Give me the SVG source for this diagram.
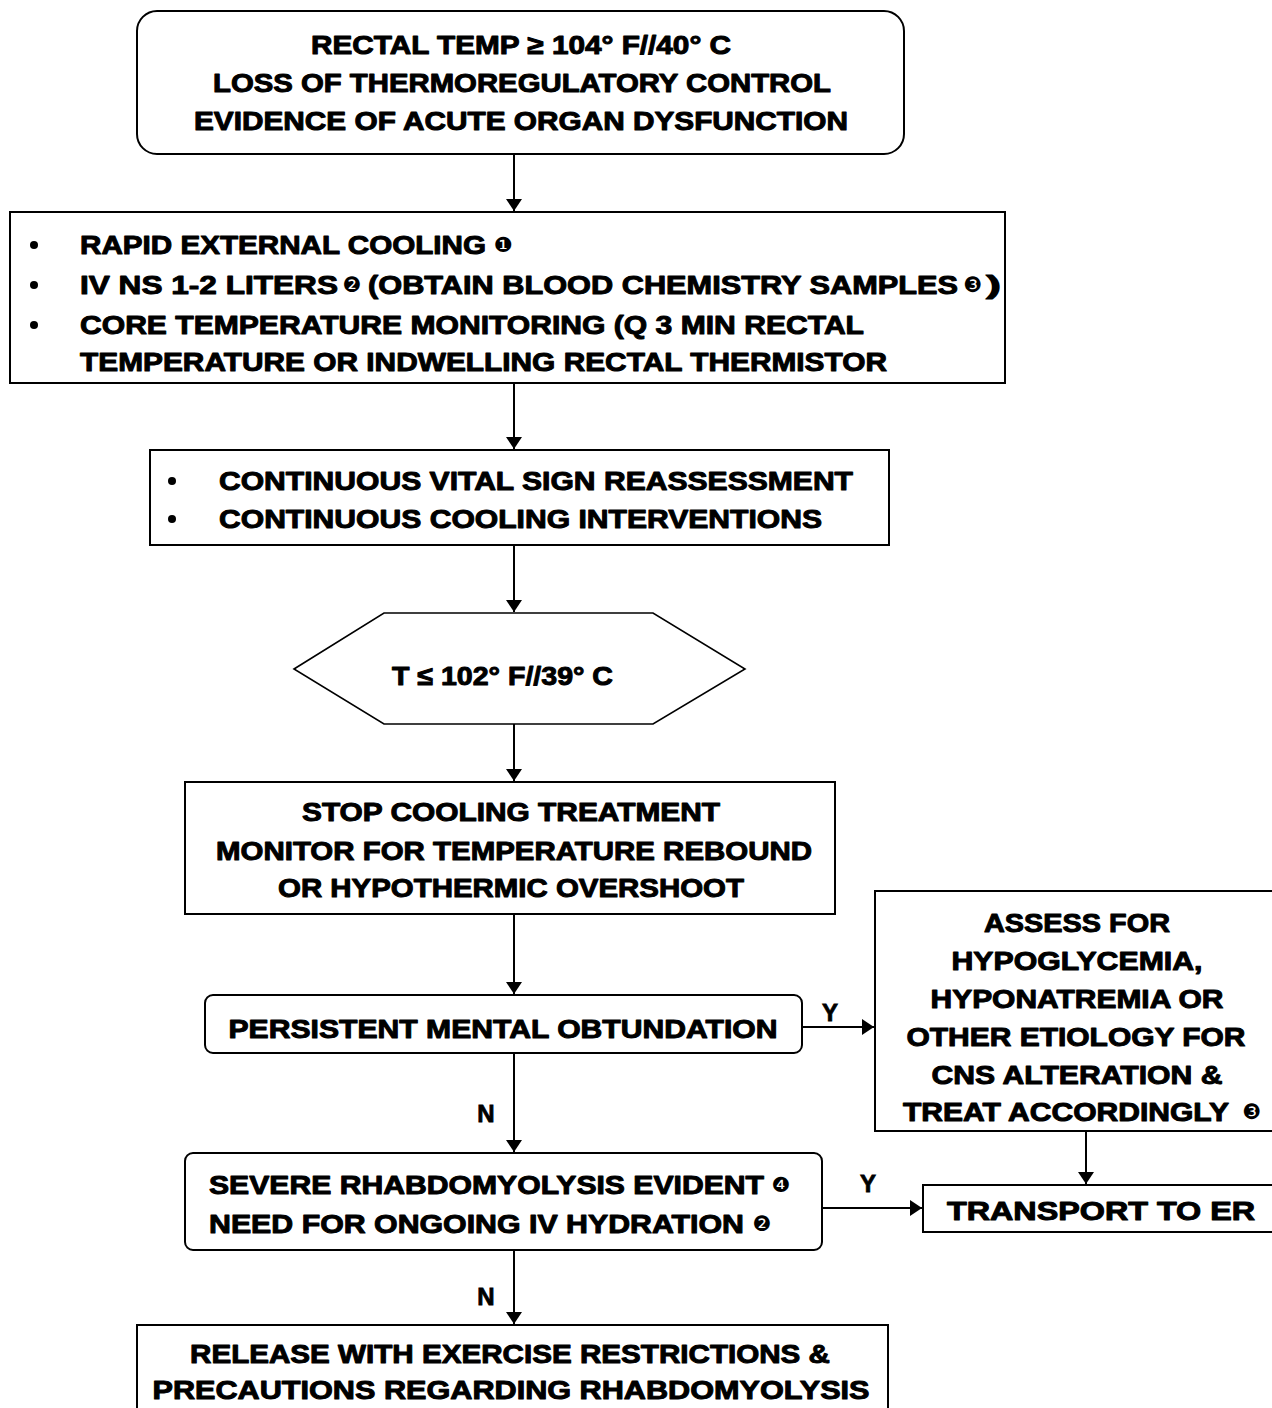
<svg xmlns="http://www.w3.org/2000/svg" width="1272" height="1408" viewBox="0 0 1272 1408">
  <style>
    .box { fill: #fff; stroke: #000; stroke-width: 2; }
    .hex { fill: #fff; stroke: #000; stroke-width: 1.6; }
    .t { font-family: "Liberation Sans", Arial, sans-serif; font-weight: bold; font-size: 26.5px; fill: #000; stroke: #000; stroke-width: 1; stroke-linejoin: round; }
    .c { text-anchor: middle; }
    .num { font-family: "DejaVu Sans", sans-serif; font-size: 21px; fill: #000; text-anchor: middle; }
    .lbl { font-family: "Liberation Sans", Arial, sans-serif; font-weight: bold; font-size: 24px; fill: #000; stroke: #000; stroke-width: 0.8; text-anchor: middle; }
    .wire { fill: none; stroke: #000; stroke-width: 2; }
  </style>
  <defs>
    <marker id="arrow" viewBox="0 0 12 16" refX="12" refY="8" markerWidth="12" markerHeight="16" markerUnits="userSpaceOnUse" orient="auto">
      <path d="M0,0 L12,8 L0,16 Z" fill="#000"/>
    </marker>
  </defs>
  <rect width="1272" height="1408" fill="#fff"/>

  <!-- connectors -->
  <g id="connectors">
    <line class="wire" x1="514" y1="155" x2="514" y2="211" marker-end="url(#arrow)"/>
    <line class="wire" x1="514" y1="384" x2="514" y2="449" marker-end="url(#arrow)"/>
    <line class="wire" x1="514" y1="546" x2="514" y2="612" marker-end="url(#arrow)"/>
    <line class="wire" x1="514" y1="724" x2="514" y2="781" marker-end="url(#arrow)"/>
    <line class="wire" x1="514" y1="915" x2="514" y2="994" marker-end="url(#arrow)"/>
    <line class="wire" x1="802" y1="1027" x2="874" y2="1027" marker-end="url(#arrow)"/>
    <line class="wire" x1="514" y1="1054" x2="514" y2="1152" marker-end="url(#arrow)"/>
    <line class="wire" x1="1086" y1="1131" x2="1086" y2="1184" marker-end="url(#arrow)"/>
    <line class="wire" x1="822" y1="1208" x2="922" y2="1208" marker-end="url(#arrow)"/>
    <line class="wire" x1="514" y1="1251" x2="514" y2="1324" marker-end="url(#arrow)"/>
    <text class="lbl" x="830" y="1021">Y</text>
    <text class="lbl" x="486" y="1122">N</text>
    <text class="lbl" x="868" y="1192">Y</text>
    <text class="lbl" x="486" y="1305">N</text>
  </g>

  <!-- entry criteria -->
  <g id="criteria">
    <rect class="box" x="137" y="11" width="767" height="143" rx="20"/>
    <text class="t c" x="521" y="54" textLength="420" lengthAdjust="spacingAndGlyphs">RECTAL TEMP ≥ 104° F//40° C</text>
    <text class="t c" x="522" y="92" textLength="618" lengthAdjust="spacingAndGlyphs">LOSS OF THERMOREGULATORY CONTROL</text>
    <text class="t c" x="521" y="130" textLength="654" lengthAdjust="spacingAndGlyphs">EVIDENCE OF ACUTE ORGAN DYSFUNCTION</text>
  </g>

  <!-- initial treatment -->
  <g id="initial-treatment">
    <rect class="box" x="10" y="212" width="995" height="171"/>
    <circle cx="34" cy="245" r="4"/>
    <circle cx="34" cy="285" r="4"/>
    <circle cx="34" cy="325" r="4"/>
    <text class="t" x="80" y="254" textLength="406" lengthAdjust="spacingAndGlyphs">RAPID EXTERNAL COOLING</text>
    <text class="num" x="503" y="252">❶</text>
    <text class="t" x="80" y="294" textLength="258" lengthAdjust="spacingAndGlyphs">IV NS 1-2 LITERS</text>
    <text class="num" x="352" y="292">❷</text>
    <text class="t" x="368" y="294" textLength="590" lengthAdjust="spacingAndGlyphs">(OBTAIN BLOOD CHEMISTRY SAMPLES</text>
    <text class="num" x="973" y="292">❸</text>
    <text class="t" x="986" y="294" textLength="15" lengthAdjust="spacingAndGlyphs">)</text>
    <text class="t" x="80" y="334" textLength="784" lengthAdjust="spacingAndGlyphs">CORE TEMPERATURE MONITORING (Q 3 MIN RECTAL</text>
    <text class="t" x="80" y="371" textLength="807" lengthAdjust="spacingAndGlyphs">TEMPERATURE OR INDWELLING RECTAL THERMISTOR</text>
  </g>

  <!-- ongoing monitoring -->
  <g id="monitoring">
    <rect class="box" x="150" y="450" width="739" height="95"/>
    <circle cx="172" cy="481" r="4"/>
    <circle cx="172" cy="519" r="4"/>
    <text class="t" x="219" y="490" textLength="634" lengthAdjust="spacingAndGlyphs">CONTINUOUS VITAL SIGN REASSESSMENT</text>
    <text class="t" x="219" y="528" textLength="603" lengthAdjust="spacingAndGlyphs">CONTINUOUS COOLING INTERVENTIONS</text>
  </g>

  <!-- temperature decision -->
  <g id="temp-check">
    <polygon class="hex" points="294,669 384,613 653,613 745,669 653,724 384,724"/>
    <text class="t" x="392" y="685" textLength="221" lengthAdjust="spacingAndGlyphs">T ≤ 102° F//39° C</text>
  </g>

  <!-- stop cooling -->
  <g id="stop-cooling">
    <rect class="box" x="185" y="782" width="650" height="132"/>
    <text class="t c" x="511" y="821" textLength="418" lengthAdjust="spacingAndGlyphs">STOP COOLING TREATMENT</text>
    <text class="t c" x="514" y="860" textLength="596" lengthAdjust="spacingAndGlyphs">MONITOR FOR TEMPERATURE REBOUND</text>
    <text class="t c" x="511" y="897" textLength="466" lengthAdjust="spacingAndGlyphs">OR HYPOTHERMIC OVERSHOOT</text>
  </g>

  <!-- mental status decision -->
  <g id="obtundation">
    <rect class="box" x="205" y="995" width="597" height="58" rx="8"/>
    <text class="t c" x="503" y="1038" textLength="549" lengthAdjust="spacingAndGlyphs">PERSISTENT MENTAL OBTUNDATION</text>
  </g>

  <!-- CNS assessment -->
  <g id="cns-assessment">
    <rect class="box" x="875" y="891" width="410" height="240"/>
    <text class="t c" x="1077" y="932" textLength="186" lengthAdjust="spacingAndGlyphs">ASSESS FOR</text>
    <text class="t c" x="1077" y="970" textLength="251" lengthAdjust="spacingAndGlyphs">HYPOGLYCEMIA,</text>
    <text class="t c" x="1077" y="1008" textLength="293" lengthAdjust="spacingAndGlyphs">HYPONATREMIA OR</text>
    <text class="t c" x="1076" y="1046" textLength="339" lengthAdjust="spacingAndGlyphs">OTHER ETIOLOGY FOR</text>
    <text class="t c" x="1077" y="1084" textLength="291" lengthAdjust="spacingAndGlyphs">CNS ALTERATION &amp;</text>
    <text class="t" x="903" y="1121" textLength="326" lengthAdjust="spacingAndGlyphs">TREAT ACCORDINGLY</text>
    <text class="num" x="1252" y="1119">❸</text>
  </g>

  <!-- rhabdomyolysis decision -->
  <g id="rhabdo">
    <rect class="box" x="185" y="1153" width="637" height="97" rx="8"/>
    <text class="t" x="209" y="1194" textLength="555" lengthAdjust="spacingAndGlyphs">SEVERE RHABDOMYOLYSIS EVIDENT</text>
    <text class="num" x="781" y="1192">❹</text>
    <text class="t" x="209" y="1233" textLength="535" lengthAdjust="spacingAndGlyphs">NEED FOR ONGOING IV HYDRATION</text>
    <text class="num" x="762" y="1231">❷</text>
  </g>

  <!-- transport -->
  <g id="transport">
    <rect class="box" x="923" y="1185" width="360" height="47"/>
    <text class="t" x="947" y="1220" textLength="308" lengthAdjust="spacingAndGlyphs">TRANSPORT TO ER</text>
  </g>

  <!-- release -->
  <g id="release">
    <rect class="box" x="137" y="1325" width="751" height="100"/>
    <text class="t c" x="510" y="1363" textLength="640" lengthAdjust="spacingAndGlyphs">RELEASE WITH EXERCISE RESTRICTIONS &amp;</text>
    <text class="t c" x="511" y="1399" textLength="717" lengthAdjust="spacingAndGlyphs">PRECAUTIONS REGARDING RHABDOMYOLYSIS</text>
  </g>
</svg>
